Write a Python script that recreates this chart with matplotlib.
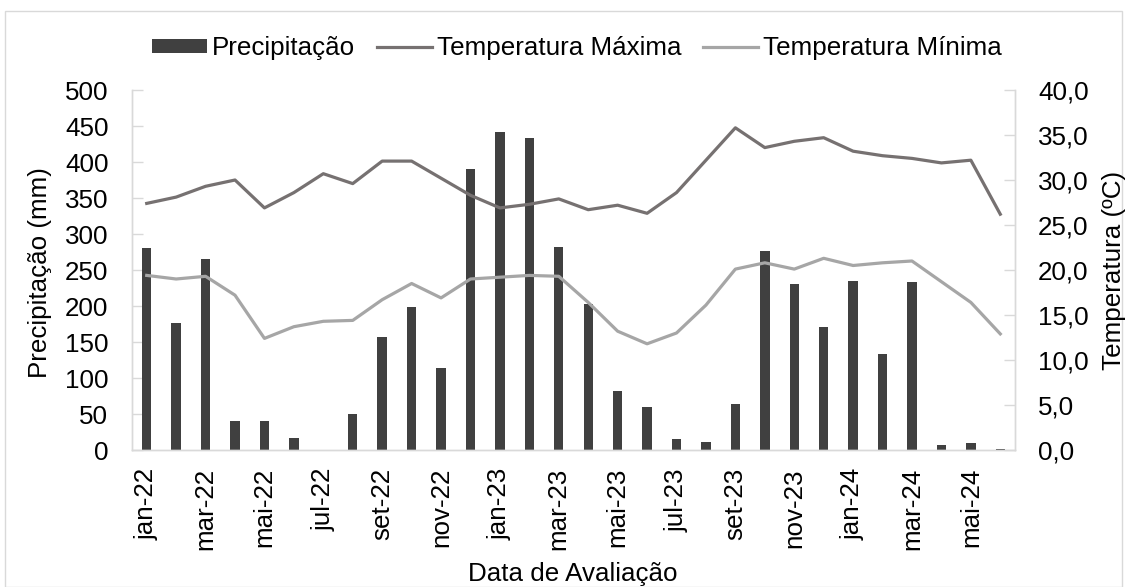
import matplotlib
matplotlib.use('Agg')
import matplotlib.pyplot as plt
from matplotlib.patches import Rectangle
from matplotlib.ticker import FuncFormatter
import numpy as np

months = ['jan', 'fev', 'mar', 'abr', 'mai', 'jun', 'jul', 'ago', 'set', 'out', 'nov', 'dez']
years = ['22', '23', '24']
labels = [f'{m}-{y}' for y in years for m in months][:30]

precip = [280, 176, 265, 40, 40, 17, 0, 50, 157, 199, 114, 390,
          441, 433, 282, 203, 82, 60, 15, 11, 64, 276, 230, 171,
          235, 133, 233, 7, 10, 2]
tmax = [27.4, 28.1, 29.3, 30.0, 26.9, 28.6, 30.7, 29.6, 32.1, 32.1, 30.2, 28.3,
        26.9, 27.3, 27.9, 26.7, 27.2, 26.3, 28.6, 32.2, 35.8, 33.6, 34.3, 34.7,
        33.2, 32.7, 32.4, 31.9, 32.2, 26.2]
tmin = [19.4, 19.0, 19.3, 17.2, 12.4, 13.7, 14.3, 14.4, 16.7, 18.5, 16.9, 19.0,
        19.2, 19.4, 19.3, 16.4, 13.2, 11.8, 13.0, 16.1, 20.1, 20.8, 20.1, 21.3,
        20.5, 20.8, 21.0, 18.7, 16.4, 12.9]

font = 'Liberation Sans'
fs = 18.7
axis_gray = '#D9D9D9'

W, H = 1127, 587
fig = plt.figure(figsize=(W / 100, H / 100), dpi=100)
fig.patches.append(Rectangle((5 / W, 0), 1117 / W, (H - 11) / H, transform=fig.transFigure,
                             fill=False, edgecolor=axis_gray, linewidth=1))

ax = fig.add_axes([132 / W, (H - 450) / H, (1015 - 132) / W, 360 / H])
ax2 = ax.twinx()

x = np.arange(len(precip))
ax.bar(x, precip, width=0.32, color='#404040', label='Precipitação', zorder=2)
ax2.plot(x, tmax, color='#767171', lw=2.3, label='Temperatura Máxima')
ax2.plot(x, tmin, color='#A6A6A6', lw=2.3, label='Temperatura Mínima')

ax.set_xlim(-0.5, len(precip) - 0.5)
ax.set_ylim(0, 500)
ax2.set_ylim(0, 40)
ax.set_yticks(np.arange(0, 501, 50))
ax2.set_yticks(np.arange(0, 41, 5))
ax2.yaxis.set_major_formatter(FuncFormatter(lambda v, p: f'{v:.1f}'.replace('.', ',')))

# tick marks on category boundaries, labels on every second month
ax.set_xticks(np.arange(-0.5, len(precip), 2))
ax.set_xticklabels([])
ax.set_xticks(x[::2], minor=True)
ax.set_xticklabels(labels[::2], minor=True, rotation=90, fontfamily=font, fontsize=fs)
ax.tick_params(axis='x', which='major', direction='out', length=9, color=axis_gray, width=1)
ax.tick_params(axis='x', which='minor', length=0, pad=13)
ax.tick_params(axis='y', direction='in', length=8, color=axis_gray, width=1, pad=17)
ax2.tick_params(axis='y', direction='in', length=8, color=axis_gray, width=1, pad=16.5)
ax2.set_xticks([])

for a in (ax, ax2):
    a.spines['top'].set_visible(False)
    for s in ('left', 'right', 'bottom'):
        a.spines[s].set_color(axis_gray)
        a.spines[s].set_linewidth(1)
    for t in a.get_yticklabels():
        t.set_fontfamily(font)
        t.set_fontsize(fs)

fig.text(40 / W, 1 - 273 / H, 'Precipitação (mm)', rotation=90, ha='center', va='center',
         fontfamily=font, fontsize=fs)
fig.text(1114 / W, 1 - 270 / H, 'Temperatura (ºC)', rotation=90, ha='center', va='center',
         fontfamily=font, fontsize=fs)
fig.text(573 / W, 1 - 574 / H, 'Data de Avaliação', ha='center', va='center',
         fontfamily=font, fontsize=fs)

h1, l1 = ax.get_legend_handles_labels()
h2, l2 = ax2.get_legend_handles_labels()
fig.legend(h1 + h2, l1 + l2, loc='center', bbox_to_anchor=(577 / W, 1 - 48 / H), ncol=3,
           frameon=False, prop={'family': font, 'size': fs}, handlelength=2.1,
           handleheight=0.45, handletextpad=0.2, columnspacing=0.85)

fig.savefig('out.png', dpi=100)
